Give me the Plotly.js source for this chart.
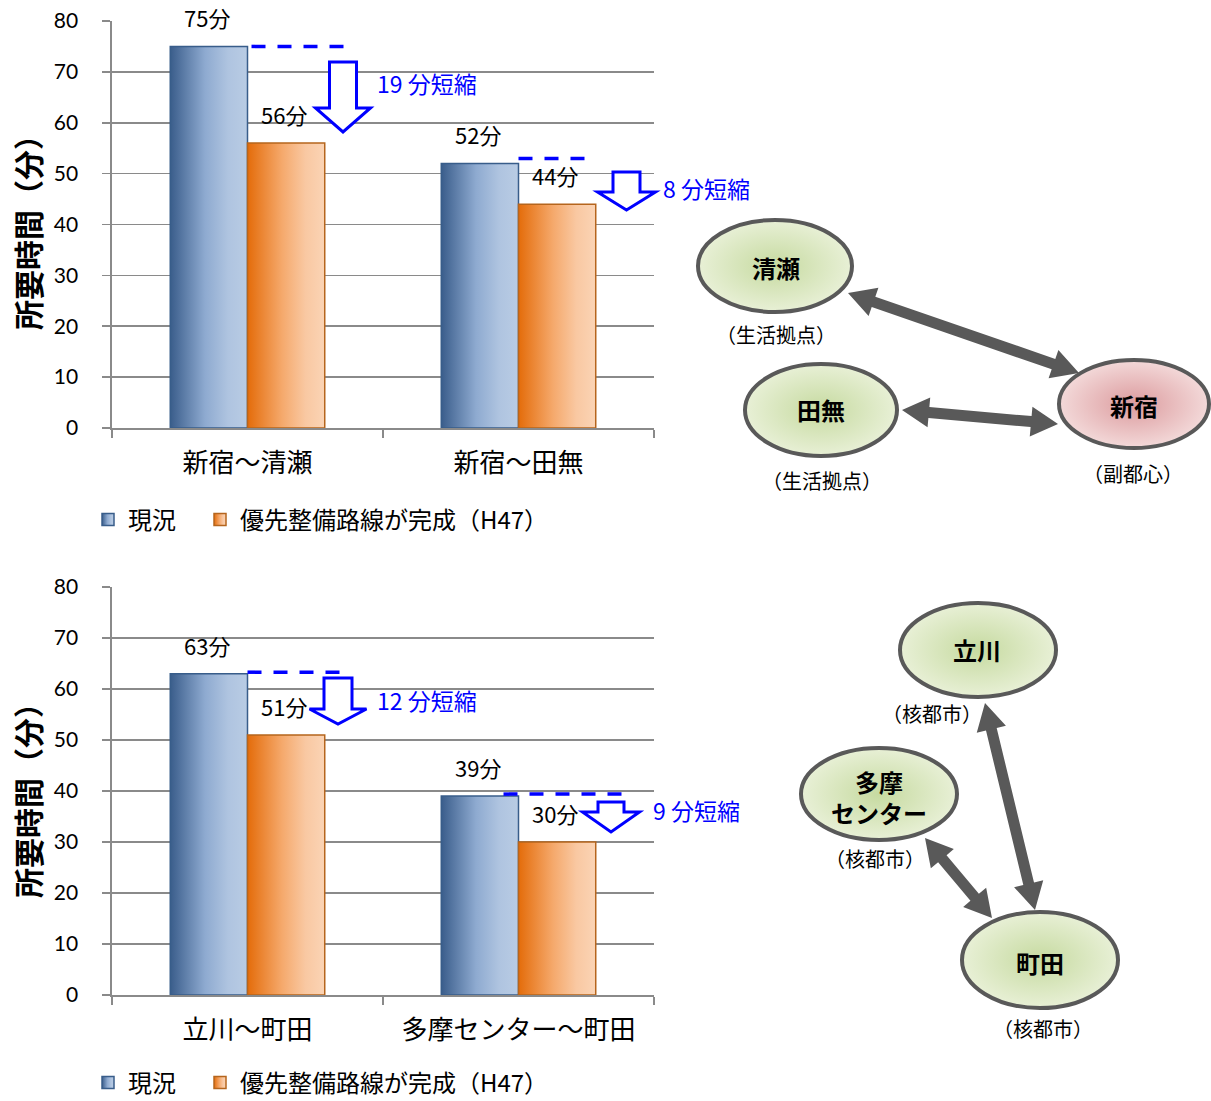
<!DOCTYPE html>
<html>
<head>
<meta charset="utf-8">
<script src="https://cdn.plot.ly/plotly-3.0.1.min.js"></script>
<style>
  html, body { margin: 0; padding: 0; background: #ffffff; width: 1211px; height: 1101px; overflow: hidden; }
  #chart { width: 1211px; height: 1101px; overflow: hidden; }
</style>
</head>
<body>
<div id="chart"></div>
<script>
// ---- data ----
const seriesNames = ['現況', '優先整備路線が完成（H47）'];

const routesTop = ['新宿～清瀬', '新宿～田無'];
const currentTop = [75, 52];
const plannedTop = [56, 44];

const routesBottom = ['立川～町田', '多摩センター～町田'];
const currentBottom = [63, 39];
const plannedBottom = [51, 30];

const yTickValues = [0, 10, 20, 30, 40, 50, 60, 70, 80];
const axisTitleText = '所要時間（分）';
const unit = '分';
const savingSuffix = ' 分短縮';

const nodeNamesTop = ['清瀬', '田無', '新宿'];
const nodeRolesTop = ['（生活拠点）', '（生活拠点）', '（副都心）'];
const nodeNamesBottom = ['立川', '多摩<br>センター', '町田'];
const nodeRolesBottom = ['（核都市）', '（核都市）', '（核都市）'];

// ---- page geometry ----
const W = 1211, H = 1101;
const px = x => x / W;
const py = y => 1 - y / H;

const JP = "'Noto Sans CJK JP', 'Noto Sans', sans-serif";
const NUM = "Lato, 'Noto Sans CJK JP', sans-serif";

const BLUE = 'rgb(79, 129, 189)';
const ORANGE = 'rgb(247, 150, 70)';
const GREEN = 'rgb(215, 228, 189)';
const PINK = 'rgb(233, 185, 187)';
const GRID = '#8a8a8a';
const ARROW_GRAY = '#595959';

function barTraces(cats, cur, plan, xa, ya, legendIds) {
  return [
    {
      type: 'bar', x: cats, y: cur, name: seriesNames[0],
      xaxis: xa, yaxis: ya, legend: legendIds[0],
      marker: { color: BLUE, line: { color: '#385d8a', width: 1.5 } },
      hoverinfo: 'skip'
    },
    {
      type: 'bar', x: cats, y: plan, name: seriesNames[1],
      xaxis: xa, yaxis: ya, legend: legendIds[1],
      marker: { color: ORANGE, line: { color: '#b5651d', width: 1.5 } },
      hoverinfo: 'skip'
    }
  ];
}

const data = [].concat(
  barTraces(routesTop, currentTop, plannedTop, 'x', 'y', ['legend', 'legend2']),
  barTraces(routesBottom, currentBottom, plannedBottom, 'x2', 'y2', ['legend3', 'legend4'])
);

const xDomain = [px(112), px(654)];

function yAxisCfg(domain, anchor) {
  return {
    domain: domain, anchor: anchor, range: [0, 80], tickvals: yTickValues,
    showgrid: true, gridcolor: GRID, gridwidth: 1.6,
    showline: true, linecolor: GRID, linewidth: 1.6,
    ticks: 'outside', ticklen: 8, tickcolor: GRID, tickwidth: 1.6,
    ticklabelstandoff: 20,
    tickfont: { family: NUM, size: 21, color: '#000' },
    zeroline: false, fixedrange: true
  };
}
function xAxisCfg(anchor) {
  return {
    domain: xDomain, anchor: anchor, type: 'category',
    showline: true, linecolor: GRID, linewidth: 1.6,
    ticks: 'outside', tickson: 'boundaries', ticklen: 8, tickcolor: GRID, tickwidth: 1.6,
    ticklabelstandoff: 11,
    tickfont: { family: JP, size: 26, color: '#000' },
    showgrid: false, fixedrange: true
  };
}

const annotations = [];
const shapes = [];

// value labels above each bar, dashed reference line and saving arrow
const BAR_OFFSET = 38.5;
function groupDecor(cats, cur, plan, xr, yr, dashSpec, arrowSpec) {
  cats.forEach((c, i) => {
    [[cur[i], -BAR_OFFSET], [plan[i], BAR_OFFSET]].forEach(([v, dx]) => {
      annotations.push({
        xref: xr, yref: yr, x: c, y: v, xshift: dx - 2, yshift: 29,
        text: v + unit, showarrow: false, xanchor: 'center', yanchor: 'middle',
        font: { family: JP, size: 22, color: '#000' }
      });
    });
    const d = dashSpec[i];
    shapes.push({
      type: 'line', xref: xr, yref: yr,
      xsizemode: 'pixel', ysizemode: 'pixel',
      xanchor: i, yanchor: cur[i],
      x0: d[0], x1: d[1], y0: d[2], y1: d[2],
      line: { color: '#0000ff', width: 3.5, dash: '14px,12px' }
    });
    const a = arrowSpec[i];
    const [cx, top, sh, hb, hh, tip] = a.geom;
    const pts = [
      [cx - sh, top], [cx + sh, top], [cx + sh, hb], [cx + hh, hb],
      [cx, tip], [cx - hh, hb], [cx - sh, hb]
    ];
    shapes.push({
      type: 'path', xref: 'paper', yref: 'paper',
      path: 'M' + pts.map(p => px(p[0]) + ',' + py(p[1])).join('L') + 'Z',
      fillcolor: '#ffffff', line: { color: '#0000ff', width: 3 }
    });
    annotations.push({
      xref: 'paper', yref: 'paper', x: px(a.label[0]), y: py(a.label[1]),
      xanchor: 'left', yanchor: 'middle', showarrow: false,
      text: (cur[i] - plan[i]) + savingSuffix,
      font: { family: JP, size: 23, color: '#0000ff' }
    });
  });
}

groupDecor(routesTop, currentTop, plannedTop, 'x', 'y',
  [[4, 100, 0], [0, 72, 5]],
  [
    { geom: [343, 62, 13.5, 108, 27.5, 132], label: [375, 83] },
    { geom: [626.5, 172, 13.5, 192, 29, 210], label: [661, 188] }
  ]);
groupDecor(routesBottom, currentBottom, plannedBottom, 'x2', 'y2',
  [[0, 95, 1.5], [-15, 114, 2]],
  [
    { geom: [338, 678, 14, 709, 28.5, 724], label: [375, 700] },
    { geom: [611, 802, 13, 812, 28.5, 832], label: [651, 810] }
  ]);

// y-axis titles
[225, 793].forEach(cy => {
  annotations.push({
    xref: 'paper', yref: 'paper', x: px(27), y: py(cy),
    text: '<b>' + axisTitleText + '</b>', textangle: -90, showarrow: false,
    xanchor: 'center', yanchor: 'middle',
    font: { family: JP, size: 30, color: '#000' }
  });
});

// ---- route diagrams ----
function ellipse(cx, cy, rx, ry, fill) {
  shapes.push({
    type: 'circle', xref: 'paper', yref: 'paper', layer: 'above',
    x0: px(cx - rx), x1: px(cx + rx), y0: py(cy + ry), y1: py(cy - ry),
    fillcolor: fill, line: { color: ARROW_GRAY, width: 4 }
  });
}
function doubleArrow(p1, p2) {
  const shaft = 11, headL = 27, headW = 30;
  const dx = p2[0] - p1[0], dy = p2[1] - p1[1];
  const len = Math.hypot(dx, dy);
  const ux = dx / len, uy = dy / len, nx = -uy, ny = ux;
  const b1 = [p1[0] + ux * headL, p1[1] + uy * headL];
  const b2 = [p2[0] - ux * headL, p2[1] - uy * headL];
  const off = (p, k) => [p[0] + nx * k, p[1] + ny * k];
  const pts = [
    p1, off(b1, headW / 2), off(b1, shaft / 2), off(b2, shaft / 2), off(b2, headW / 2),
    p2, off(b2, -headW / 2), off(b2, -shaft / 2), off(b1, -shaft / 2), off(b1, -headW / 2)
  ];
  shapes.push({
    type: 'path', xref: 'paper', yref: 'paper', layer: 'above',
    path: 'M' + pts.map(p => px(p[0]) + ',' + py(p[1])).join('L') + 'Z',
    fillcolor: ARROW_GRAY, line: { width: 0 }
  });
}
function nodeText(name, role, cx, cy, rx, ry) {
  annotations.push({
    xref: 'paper', yref: 'paper', x: px(cx), y: py(cy), showarrow: false,
    xanchor: 'center', yanchor: 'middle',
    text: '<b>' + name + '</b>', font: { family: JP, size: 24, color: '#000' }
  });
  annotations.push({
    xref: 'paper', yref: 'paper', x: px(rx), y: py(ry), showarrow: false,
    xanchor: 'center', yanchor: 'middle',
    text: role, font: { family: JP, size: 20, color: '#000' }
  });
}

// top diagram
doubleArrow([848, 293], [1079, 373]);
doubleArrow([902, 410], [1058, 424]);
ellipse(775, 266, 77, 46, GREEN);
ellipse(821, 410, 76, 46, GREEN);
ellipse(1134, 404, 75, 44, PINK);
nodeText(nodeNamesTop[0], nodeRolesTop[0], 776, 267, 776, 334);
nodeText(nodeNamesTop[1], nodeRolesTop[1], 821, 410, 822, 480);
nodeText(nodeNamesTop[2], nodeRolesTop[2], 1134, 405, 1133, 474);

// bottom diagram
doubleArrow([985, 703], [1035, 910]);
doubleArrow([925, 838], [992, 918]);
ellipse(978, 650, 78, 47, GREEN);
ellipse(879, 794, 78, 46, GREEN);
ellipse(1040, 960, 78, 48, GREEN);
nodeText(nodeNamesBottom[0], nodeRolesBottom[0], 977, 650, 932, 713);
nodeText(nodeNamesBottom[1], nodeRolesBottom[1], 879, 797, 875, 858);
nodeText(nodeNamesBottom[2], nodeRolesBottom[2], 1040, 962, 1043, 1028);

const legendCfg = (x, y) => ({
  orientation: 'h', x: px(x), y: py(y), xanchor: 'left', yanchor: 'middle',
  font: { family: JP, size: 24, color: '#000' },
  bgcolor: 'rgba(0,0,0,0)', borderwidth: 0, itemwidth: 30
});

const layout = {
  width: W, height: H,
  margin: { l: 0, r: 0, t: 0, b: 0, autoexpand: false },
  paper_bgcolor: '#ffffff', plot_bgcolor: '#ffffff',
  barmode: 'group', bargap: 0.43, bargroupgap: 0,
  showlegend: true,
  legend: legendCfg(88, 520),
  legend2: legendCfg(200, 520),
  legend3: legendCfg(88, 1083),
  legend4: legendCfg(200, 1083),
  xaxis: xAxisCfg('y'),
  yaxis: yAxisCfg([py(428), py(21)], 'x'),
  xaxis2: xAxisCfg('y2'),
  yaxis2: yAxisCfg([py(995), py(587)], 'x2'),
  annotations: annotations,
  shapes: shapes
};

// gradient fills for bars, legend swatches and diagram nodes
function addGradients(gd) {
  const svg = gd.querySelector('svg.main-svg');
  const NS = 'http://www.w3.org/2000/svg';
  let defs = svg.querySelector('defs');
  if (!defs) { defs = document.createElementNS(NS, 'defs'); svg.insertBefore(defs, svg.firstChild); }
  function grad(id, type, stops) {
    const g = document.createElementNS(NS, type);
    g.setAttribute('id', id);
    if (type === 'linearGradient') {
      g.setAttribute('x1', '0'); g.setAttribute('y1', '0');
      g.setAttribute('x2', '1'); g.setAttribute('y2', '0');
    } else {
      g.setAttribute('cx', '0.5'); g.setAttribute('cy', '0.5'); g.setAttribute('r', '0.5');
    }
    stops.forEach(([o, c]) => {
      const s = document.createElementNS(NS, 'stop');
      s.setAttribute('offset', o); s.setAttribute('stop-color', c);
      g.appendChild(s);
    });
    defs.appendChild(g);
  }
  grad('gBlue', 'linearGradient', [[0, '#3a5d8b'], [0.45, '#8eaad0'], [0.75, '#afc4e0'], [1, '#b9cce4']]);
  grad('gOrange', 'linearGradient', [[0, '#e46c0a'], [0.45, '#f5a96c'], [0.75, '#f9c8a2'], [1, '#fbd4b5']]);
  grad('gGreen', 'radialGradient', [[0, '#c6daa0'], [1, '#e8f0d6']]);
  grad('gPink', 'radialGradient', [[0, '#dc9b9e'], [1, '#f3d9d9']]);
  const map = {};
  map[BLUE] = 'url(#gBlue)';
  map[ORANGE] = 'url(#gOrange)';
  map[GREEN] = 'url(#gGreen)';
  map[PINK] = 'url(#gPink)';
  gd.querySelectorAll('path').forEach(p => {
    const f = (p.style.fill || '').replace(/\s+/g, '');
    Object.keys(map).forEach(k => {
      if (f === k.replace(/\s+/g, '')) p.style.fill = map[k];
    });
  });
}

Plotly.newPlot('chart', data, layout, { staticPlot: true, displayModeBar: false })
  .then(addGradients);
</script>
</body>
</html>
